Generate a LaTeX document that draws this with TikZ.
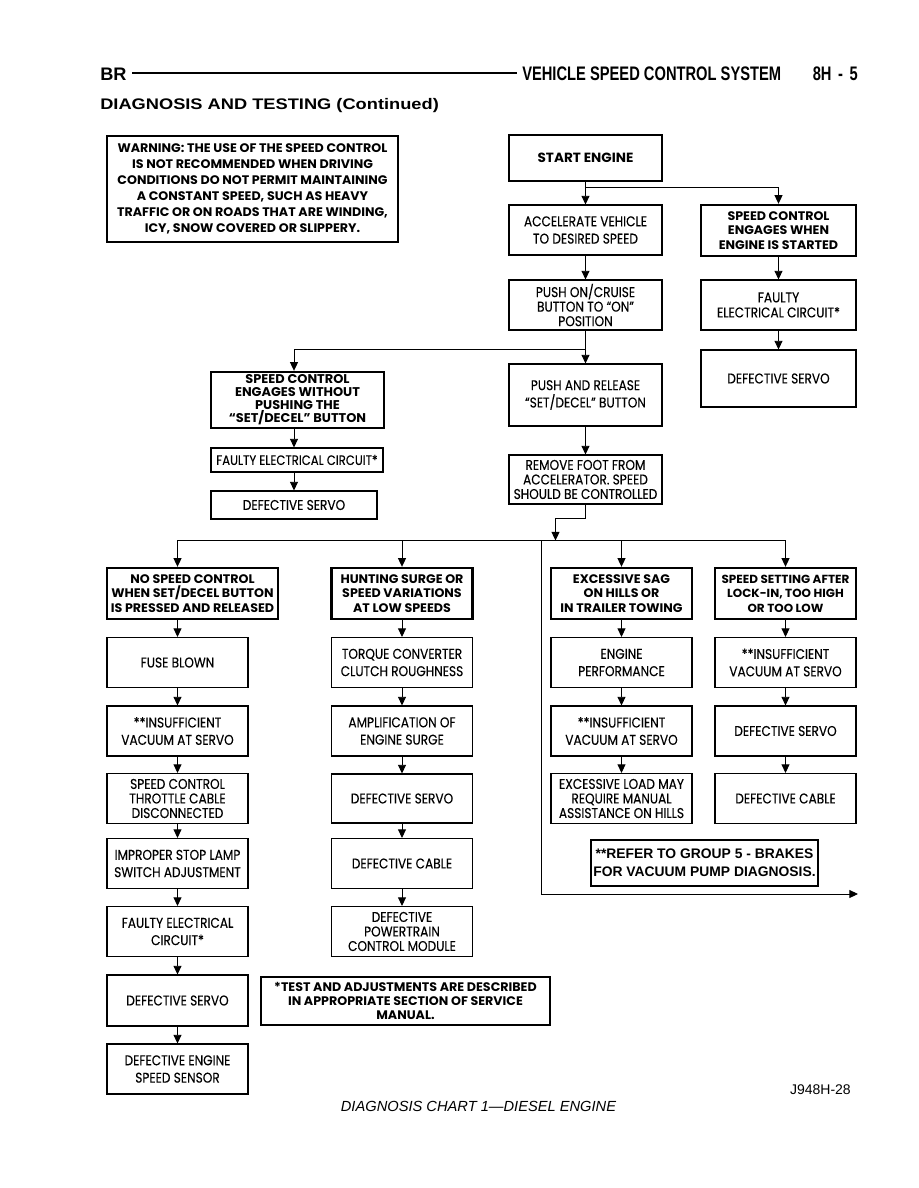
\documentclass[tikz,border=0pt]{standalone}
\usepackage{fontspec}
\usepackage{tikz}
\usetikzlibrary{arrows.meta,positioning,calc}

\newfontfamily\chartfont{Poppins}[FakeStretch=0.86,FakeBold=0.15]
\newfontfamily\chartheavy{Poppins}[FakeStretch=1.02]
\newfontfamily\headfont{Liberation Sans}[FakeStretch=0.75]
\newfontfamily\titlefont{Liberation Sans}[FakeStretch=1.19]
\newfontfamily\capfont{Liberation Sans}

\begin{document}
\begin{tikzpicture}[
  x=0.75pt, y=-0.75pt,
  >={Triangle[length=6.5pt,width=6pt]},
  dims/.style 2 args={minimum width=#1*0.75pt, minimum height=#2*0.75pt},
  box/.style={draw, line width=0.8pt, align=center, inner sep=1pt,
              font=\chartfont\fontsize{10.6}{13}\selectfont},
  tight/.style={font=\chartfont\fontsize{10.6}{10.9}\selectfont},
  cause/.style={box, dims={141}{50}},
  alert/.style={box, line width=1.8pt,
                font=\chartheavy\bfseries\fontsize{9.3}{10.9}\selectfont},
  symptom/.style={alert, dims={141}{51}},
  note/.style={alert, line width=1.2pt},
  link/.style={->, line width=0.7pt},
  wire/.style={line width=0.7pt},
  hdr/.style={inner sep=0pt, anchor=base west}
]
\fill[white] (0,0) rectangle (918,1188);
\useasboundingbox (0,0) rectangle (918,1188);

% ---------- page header ----------
\node[hdr, font=\capfont\bfseries\fontsize{13.6}{15}\selectfont] (br) at (100,80) {BR};
\node[hdr, font=\headfont\bfseries\fontsize{14.7}{16}\selectfont] (system) at (522,80)
  {VEHICLE SPEED CONTROL SYSTEM};
\node[hdr, anchor=base east, font=\headfont\bfseries\fontsize{14.7}{16}\selectfont] (page)
  at (858,80) {8H\,\,-\,\,5};
\draw[line width=0.9pt] ([xshift=4pt,yshift=5.2pt]br.base east)
  -- ([xshift=-4pt,yshift=5.2pt]system.base west);
\node[hdr, font=\titlefont\bfseries\fontsize{11.5}{13}\selectfont] (title) at (100,109)
  {DIAGNOSIS AND TESTING (Continued)};

% ---------- warning ----------
\node[note, dims={291}{106}, font=\chartheavy\bfseries\fontsize{9.3}{12}\selectfont]
  (warning) at (252.5,189)
  {WARNING: THE USE OF THE SPEED CONTROL\\IS NOT RECOMMENDED WHEN DRIVING\\
   CONDITIONS DO NOT PERMIT MAINTAINING\\A CONSTANT SPEED, SUCH AS HEAVY\\
   TRAFFIC OR ON ROADS THAT ARE WINDING,\\ICY, SNOW COVERED OR SLIPPERY.};

% ---------- upper chart ----------
\node[alert, dims={153}{46}, font=\chartheavy\bfseries\fontsize{10}{11}\selectfont]
  (start) at (585.5,158) {START ENGINE};
\node[box, dims={153}{50}] (accel) at (585.5,230) {ACCELERATE VEHICLE\\TO DESIRED SPEED};
\node[alert, dims={155}{51}] (engages) at (778.5,230.5)
  {SPEED CONTROL\\ENGAGES WHEN\\ENGINE IS STARTED};
\node[box, tight, dims={153}{50}] (pushon) at (585.5,305)
  {PUSH ON/CRUISE\\BUTTON TO “ON”\\POSITION};
\node[box, dims={155}{50}, font=\chartfont\fontsize{10.6}{11.3}\selectfont] (faulty1)
  at (778.5,305) {FAULTY\\ELECTRICAL CIRCUIT*};
\node[box, dims={155}{57}] (servo1) at (778.5,378.5) {DEFECTIVE SERVO};
\node[box, dims={153}{62}] (pushset) at (585.5,395) {PUSH AND RELEASE\\“SET/DECEL” BUTTON};
\node[box, tight, dims={153}{49}] (foot) at (585.5,479.5)
  {REMOVE FOOT FROM\\ACCELERATOR. SPEED\\SHOULD BE CONTROLLED};

\node[alert, dims={173}{56}, font=\chartheavy\bfseries\fontsize{9.5}{9.7}\selectfont]
  (nopush) at (297.5,400) {SPEED CONTROL\\ENGAGES WITHOUT\\PUSHING THE\\“SET/DECEL” BUTTON};
\node[box, dims={172}{24}, font=\chartfont\fontsize{10.2}{12}\selectfont] (faulty2)
  at (297,460) {FAULTY ELECTRICAL CIRCUIT*};
\node[box, dims={166}{28}] (servo2) at (294,505) {DEFECTIVE SERVO};

\draw[link] (start) -- (accel);
\draw[link] (start.south) -- ++(0,5) -| (engages.north);
\draw[link] (accel) -- (pushon);
\draw[link] (pushon) -- (pushset);
\draw[link] (pushon.south) -- ++(0,19) -| (nopush.north -| servo2);
\draw[link] (pushset) -- (foot);
\draw[link] (engages) -- (faulty1);
\draw[link] (faulty1) -- (servo1);
\draw[link] (nopush.south -| servo2) -- (faulty2.north -| servo2);
\draw[link] (faulty2.south -| servo2) -- (servo2);

% ---------- lower chart ----------
\node[alert, dims={171}{51}] (nosc) at (192.5,593.5)
  {NO SPEED CONTROL\\WHEN SET/DECEL BUTTON\\IS PRESSED AND RELEASED};
\node[cause] (fuse) at (177.5,662.5) {FUSE BLOWN};
\node[cause] (vac1) at (177.5,731) {**INSUFFICIENT\\VACUUM AT SERVO};
\node[cause, tight] (cable1) at (177.5,798.5) {SPEED CONTROL\\THROTTLE CABLE\\DISCONNECTED};
\node[cause] (lamp) at (177.5,863.5) {IMPROPER STOP LAMP\\SWITCH ADJUSTMENT};
\node[cause] (faulty3) at (177.5,931.5) {FAULTY ELECTRICAL\\CIRCUIT*};
\node[cause, dims={141}{51}] (servo3) at (177.5,1000.5) {DEFECTIVE SERVO};
\node[cause] (sensor) at (177.5,1069) {DEFECTIVE ENGINE\\SPEED SENSOR};

\node[symptom] (hunt) at (402,593.5) {HUNTING SURGE OR\\SPEED VARIATIONS\\AT LOW SPEEDS};
\node[cause] (torque) at (402,662.5) {TORQUE CONVERTER\\CLUTCH ROUGHNESS};
\node[cause] (amp) at (402,731) {AMPLIFICATION OF\\ENGINE SURGE};
\node[cause, dims={141}{49}] (servo4) at (402,798.5) {DEFECTIVE SERVO};
\node[cause] (cable2) at (402,863.5) {DEFECTIVE CABLE};
\node[cause, tight] (pcm) at (402,931.5) {DEFECTIVE\\POWERTRAIN\\CONTROL MODULE};

\node[symptom] (sag) at (621.5,593.5) {EXCESSIVE SAG\\ON HILLS OR\\IN TRAILER TOWING};
\node[cause] (perf) at (621.5,662.5) {ENGINE\\PERFORMANCE};
\node[cause] (vac2) at (621.5,731) {**INSUFFICIENT\\VACUUM AT SERVO};
\node[cause, tight] (load) at (621.5,798.5)
  {EXCESSIVE LOAD MAY\\REQUIRE MANUAL\\ASSISTANCE ON HILLS};

\node[symptom, font=\chartheavy\bfseries\fontsize{8.8}{10.9}\selectfont] (lockin)
  at (785.5,593.5) {SPEED SETTING AFTER\\LOCK-IN, TOO HIGH\\OR TOO LOW};
\node[cause] (vac3) at (785.5,662.5) {**INSUFFICIENT\\VACUUM AT SERVO};
\node[cause] (servo5) at (785.5,731) {DEFECTIVE SERVO};
\node[cause] (cable3) at (785.5,798.5) {DEFECTIVE CABLE};

% notes
\node[note, dims={289}{48}, font=\chartheavy\bfseries\fontsize{9.3}{10.5}\selectfont]
  (test) at (405.5,1001)
  {*TEST AND ADJUSTMENTS ARE DESCRIBED\\IN APPROPRIATE SECTION OF SERVICE\\MANUAL.};
\node[alert, dims={227}{46}, line width=1.6pt,
      font=\capfont\bfseries\fontsize{10.4}{13.5}\selectfont]
  (refer) at (704.5,863) {**REFER TO GROUP 5 - BRAKES\\FOR VACUUM PUMP DIAGNOSIS.};

% bus from the set/decel test
\coordinate (busL) at (177.5,540);
\coordinate (busR) at (785.5,540);
\coordinate (busM) at (541,540);
\coordinate (exit) at (858,894);
\draw[link] (foot.south) -- ++(0,14) -- ++(-30,0) -- ++(0,22);
\draw[wire] (busL) -- (busR);
\draw[link] (busL) -- (busL |- nosc.north);
\draw[link] (busL -| hunt) -- (hunt);
\draw[link] (busL -| sag) -- (sag);
\draw[link] (busR) -- (lockin);
\draw[link] (busM) |- (exit);

\draw[link] (nosc.south -| fuse) -- (fuse);
\foreach \a/\b in {fuse/vac1,vac1/cable1,cable1/lamp,lamp/faulty3,faulty3/servo3,
    servo3/sensor,hunt/torque,torque/amp,amp/servo4,servo4/cable2,cable2/pcm,
    sag/perf,perf/vac2,vac2/load,lockin/vac3,vac3/servo5,servo5/cable3}
  \draw[link] (\a) -- (\b);

% ---------- caption ----------
\node[inner sep=0pt, anchor=base east, font=\capfont\fontsize{10.5}{12}\selectfont]
  (code) at (851,1094) {J948H-28};
\node[inner sep=0pt, anchor=base, font=\capfont\itshape\fontsize{11}{12}\selectfont]
  (caption) at (478.5,1111) {DIAGNOSIS CHART 1—DIESEL ENGINE};

\end{tikzpicture}
\end{document}
